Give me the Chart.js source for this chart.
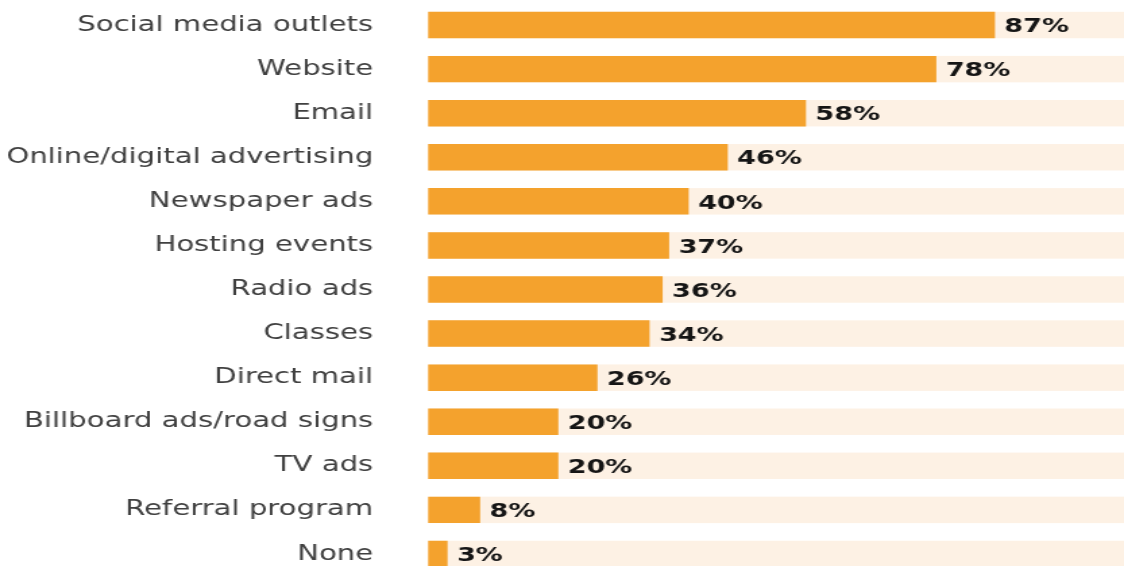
<!DOCTYPE html>
<html>
<head>
<meta charset="utf-8">
<script src="https://cdn.jsdelivr.net/npm/chart.js@4/dist/chart.umd.min.js"></script>
<style>
  html, body { margin: 0; padding: 0; background: #ffffff; overflow: hidden; }
  #c { position: absolute; left: 0; top: 0; }
</style>
</head>
<body>
<!-- drawn on a narrower backing store and widened by CSS, giving the broad letterforms -->
<canvas id="c" width="833" height="576" style="width:1124px;height:576px;display:block;"></canvas>
<script>
const categories = [
  'Social media outlets', 'Website', 'Email', 'Online/digital advertising',
  'Newspaper ads', 'Hosting events', 'Radio ads', 'Classes', 'Direct mail',
  'Billboard ads/road signs', 'TV ads', 'Referral program', 'None'
];
const shares = [87, 78, 58, 46, 40, 37, 36, 34, 26, 20, 20, 8, 3];
const valueLabels = ['87%', '78%', '58%', '46%', '40%', '37%', '36%', '34%', '26%', '20%', '20%', '8%', '3%'];

const BAR = '#F4A22D';
const TRACK = '#FDF1E4';
const STRETCH = 1124 / 833;

// light full-width band behind every bar
const trackPlugin = {
  id: 'track',
  beforeDatasetsDraw(chart) {
    const { ctx, chartArea } = chart;
    const meta = chart.getDatasetMeta(0);
    ctx.save();
    ctx.fillStyle = TRACK;
    meta.data.forEach(bar => {
      const h = bar.height;
      ctx.fillRect(chartArea.left, bar.y - h / 2, chartArea.right - chartArea.left, h);
    });
    ctx.restore();
  }
};

// percentage text just past the end of each bar
const valuePlugin = {
  id: 'values',
  afterDatasetsDraw(chart) {
    const { ctx } = chart;
    const meta = chart.getDatasetMeta(0);
    ctx.save();
    ctx.fillStyle = '#151515';
    ctx.font = 'bold 20px "DejaVu Sans", sans-serif';
    ctx.textAlign = 'left';
    ctx.textBaseline = 'middle';
    meta.data.forEach((bar, i) => {
      ctx.fillText(valueLabels[i], bar.x + 7, bar.y + 2);
    });
    ctx.restore();
  }
};

new Chart(document.getElementById('c'), {
  type: 'bar',
  data: {
    labels: categories,
    datasets: [{
      data: shares,
      backgroundColor: BAR,
      borderWidth: 0,
      barPercentage: 0.6,
      categoryPercentage: 1.0
    }]
  },
  options: {
    indexAxis: 'y',
    responsive: false,
    maintainAspectRatio: false,
    devicePixelRatio: 1,
    animation: false,
    layout: { padding: { left: 0, right: 0, top: 3, bottom: 0 } },
    plugins: { legend: { display: false }, tooltip: { enabled: false } },
    scales: {
      x: { display: false, min: 0, max: 106.8 },
      y: {
        grid: { display: false },
        border: { display: false },
        ticks: {
          color: '#404040',
          padding: 44 / STRETCH,
          font: { family: 'DejaVu Sans', size: 21.6 }
        },
        afterFit(scale) {
          scale.width = 428 / STRETCH;
          scale.paddingTop = 0;
          scale.paddingBottom = 0;
        }
      }
    }
  },
  plugins: [trackPlugin, valuePlugin]
});
</script>
</body>
</html>
